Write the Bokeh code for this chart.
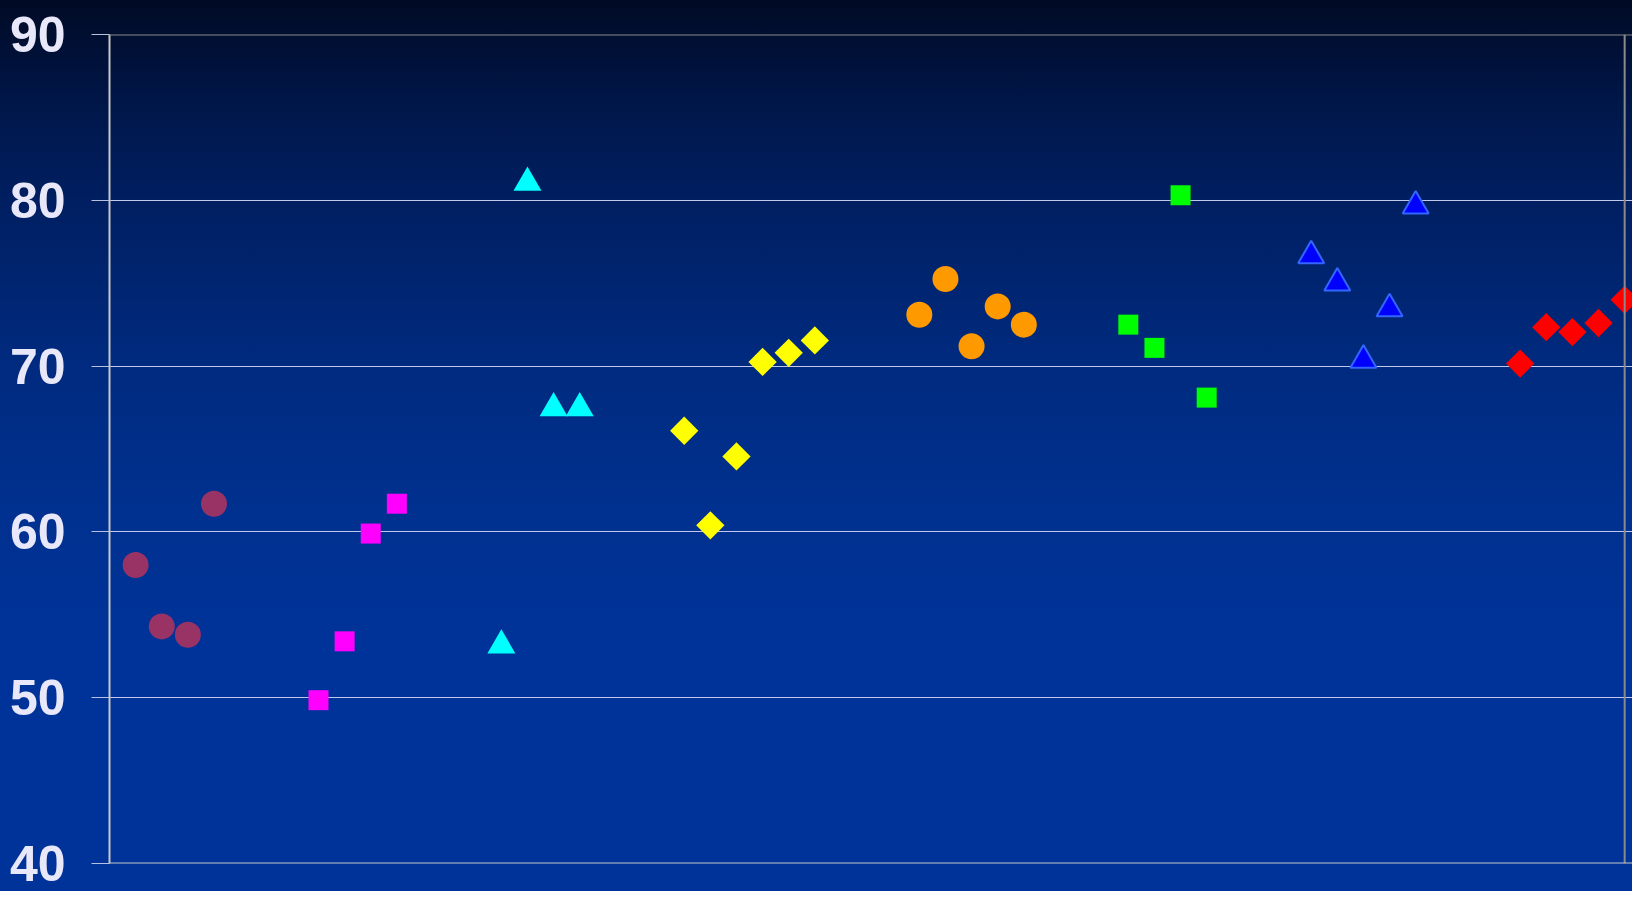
import math
from bokeh.plotting import figure
from bokeh.models import Range1d, FixedTicker, ColumnDataSource, Span
from bokeh.transform import dodge
from bokeh.embed import file_html
from bokeh.resources import INLINE

# ---- data ----
maroon_x = [1, 2, 3, 4]
maroon_y = [58.0, 54.3, 53.8, 61.7]

magenta_x = [8, 9, 10, 11]
magenta_y = [49.85, 53.4, 59.9, 61.7]

cyan_x = [15, 16, 17, 18]
cyan_y = [53.4, 81.3, 67.7, 67.7]

yellow_x = [22, 23, 24, 25, 26, 27]
yellow_y = [66.1, 60.4, 64.55, 70.25, 70.8, 71.55]

orange_x = [31, 32, 33, 34, 35]
orange_y = [73.1, 75.25, 71.2, 73.6, 72.5]

green_x = [39, 40, 41, 42]
green_y = [72.5, 71.1, 80.3, 68.1]

blue_x = [46, 47, 48, 49, 50]
blue_y = [76.9, 75.25, 70.6, 73.7, 79.9]

red_x = [54, 55, 56, 57, 58]
red_y = [70.15, 72.35, 72.05, 72.6, 74.0]

y_ticks = [40, 50, 60, 70, 80, 90]
x_min, x_max = 0, 58
y_min, y_max = 40, 90

p = figure(width=1632, height=891, output_backend="svg", toolbar_location=None,
           x_range=Range1d(x_min, x_max + 0.3), y_range=Range1d(y_min, y_max),
           min_border_left=109, min_border_right=0, min_border_top=34,
           min_border_bottom=28)

p.styles = {"background-image": "linear-gradient(to bottom, #000a24 0%, #00174a 12%, "
            "#001f62 23%, #002a7e 40%, #003190 58%, #003399 72%, #003399 100%)"}
p.border_fill_color = None
p.background_fill_color = None
p.outline_line_color = None

p.xaxis.visible = False
p.xgrid.visible = False

p.yaxis.ticker = FixedTicker(ticks=y_ticks)
p.yaxis.major_label_text_font = "Liberation Sans"
p.yaxis.major_label_text_font_style = "bold"
p.yaxis.major_label_text_font_size = "50px"
p.yaxis.major_label_text_color = "#e8e8fa"
p.yaxis.major_label_standoff = 26
p.yaxis.major_tick_out = 18
p.yaxis.major_tick_in = 0
p.yaxis.major_tick_line_color = "#b8c0e0"
p.yaxis.minor_tick_line_color = None
p.yaxis.axis_line_color = "#c8c8c8"
p.yaxis.axis_line_width = 2

p.ygrid.grid_line_color = "#c0c8ec"
p.ygrid.grid_line_width = 1

# plot-area border (top and right grey, bottom light like the axis)
p.add_layout(Span(location=y_max, dimension="width", line_color="#8a8a8a", line_width=2))
p.add_layout(Span(location=x_max, dimension="height", line_color="#8a8a8a", line_width=2))
p.add_layout(Span(location=y_min, dimension="width", line_color="#c8c8c8", line_width=2))

def src(x, y):
    return ColumnDataSource(dict(x=x, y=y))

p.scatter("x", "y", source=src(maroon_x, maroon_y), marker="circle", size=26,
          fill_color="#993366", line_color=None)
p.scatter("x", "y", source=src(magenta_x, magenta_y), marker="square", size=20,
          fill_color="#ff00ff", line_color=None)
p.scatter("x", dodge("y", -0.24), source=src(cyan_x, cyan_y), marker="triangle", size=28,
          fill_color="#00ffff", line_color=None)
p.scatter("x", "y", source=src(yellow_x, yellow_y), marker="square", size=20,
          angle=math.pi / 4, fill_color="#ffff00", line_color=None)
p.scatter("x", "y", source=src(orange_x, orange_y), marker="circle", size=26,
          fill_color="#ff9900", line_color=None)
p.scatter("x", "y", source=src(green_x, green_y), marker="square", size=20,
          fill_color="#00ff00", line_color=None)
p.scatter("x", dodge("y", -0.24), source=src(blue_x, blue_y), marker="triangle", size=26,
          fill_color="#0000ff", line_color="#3366ff", line_width=2)
p.scatter("x", "y", source=src(red_x, red_y), marker="square", size=20,
          angle=math.pi / 4, fill_color="#ff0000", line_color=None)

open("out.html", "w").write(file_html(p, INLINE))
